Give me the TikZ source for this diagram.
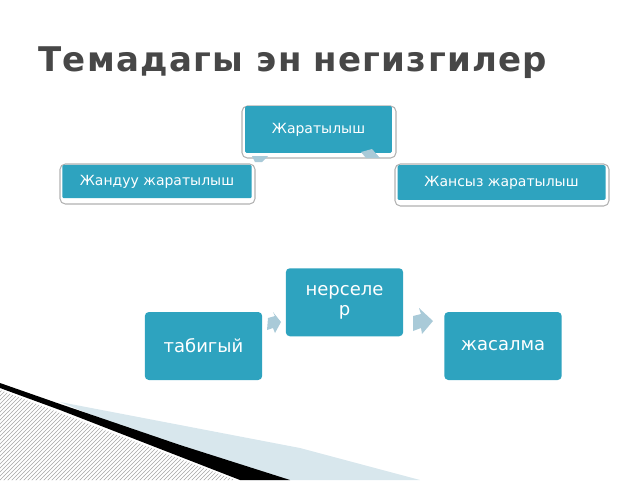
\documentclass[tikz,border=0pt]{standalone}
\usepackage{fontspec}
\setmainfont{DejaVu Sans}
\usetikzlibrary{patterns}
\definecolor{tealbox}{HTML}{2EA3BF}
\definecolor{arr}{HTML}{A9CAD8}
\begin{document}
\begin{tikzpicture}[x=0.75pt,y=-0.75pt,
  box/.style={fill=tealbox,text=white,draw=none,rounded corners=1pt},
  frame/.style={fill=white,draw=black!30,line width=0.8pt,rounded corners=4pt},
  chev/.style={fill=arr,draw=none}]
\useasboundingbox (0,0) rectangle (640,480);
\node[anchor=west,text=black!72,font=\bfseries\fontsize{25.5}{29}\selectfont,inner sep=0pt] (title) at (38,63) {Т\kern1pt е\kern1pt м\kern1pt а\kern1pt д\kern1pt а\kern1pt г\kern1pt ы\kern1pt{} э\kern1pt н н\kern1pt е\kern1pt г\kern1pt и\kern1pt з\kern1pt г\kern1pt и\kern1pt л\kern1pt е\kern1pt р};
% top group shadows/frames
\draw[frame] (242,106) rectangle (396,158);
\draw[frame] (60,164) rectangle (255,204);
\draw[frame] (395,164) rectangle (609,206);
\node[box,minimum width=110pt,minimum height=35pt,font=\fontsize{10.5}{12}\selectfont] (z) at (318.5,129.5) {Жаратылыш};
\node[box,minimum width=142pt,minimum height=25pt,font=\fontsize{10.5}{12}\selectfont] (zl) at (157,181.5) {Жандуу жаратылыш};
\node[box,minimum width=156pt,minimum height=26pt,font=\fontsize{10.5}{12}\selectfont] (zr) at (501.5,182.5) {Жансыз жаратылыш};
\fill[chev] (252,156) -- (268,156) -- (262,162) -- (255,162) -- cycle;
\fill[chev] (361,152) -- (372,149) -- (380,158) -- (366,158) -- cycle;
% bottom group
\node[box,rounded corners=3pt,minimum width=88pt,minimum height=51pt,align=center,anchor=north,inner sep=4pt,font=\fontsize{13.5}{15}\selectfont] (n) at (344.5,268) {нерселе\\р};
\node[box,rounded corners=3pt,minimum width=88pt,minimum height=51pt,font=\fontsize{13.5}{16}\selectfont] (t) at (203.5,346) {табигый};
\node[box,rounded corners=3pt,minimum width=88pt,minimum height=51pt,font=\fontsize{13.5}{16}\selectfont] (j) at (503,346) {жасалма};
\fill[chev] (268,318) -- (275,316) -- (273,312) -- (281,322) -- (275,333) -- (273,328) -- (267,330) -- cycle;
\fill[chev] (413,316) -- (421,314) -- (419,308) -- (433,321) -- (422,334) -- (421,328) -- (413,331) -- cycle;
% decoration
\fill[arr!45] (60,402) -- (300,448) -- (420,480) -- (250,480) -- cycle;
\fill[pattern=north east lines,pattern color=black!35] (0,390) -- (235,480) -- (0,480) -- cycle;
\fill[black] (0,383) -- (60,404) -- (180,445) -- (290,480) -- (240,480) -- (60,410) -- (0,388) -- cycle;
\end{tikzpicture}
\end{document}
